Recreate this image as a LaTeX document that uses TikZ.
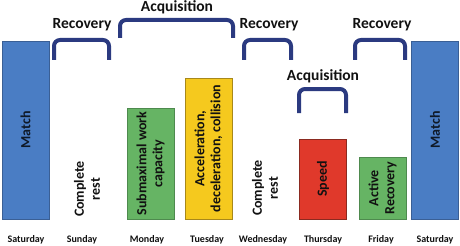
\documentclass[tikz,border=0pt]{standalone}
\usepackage{fontspec}
\setmainfont{Carlito}
\usepackage{tikz}
\usepackage{xcolor}
\usetikzlibrary{positioning}
\definecolor{Navy}{HTML}{2B3A80}
\definecolor{MatchBlue}{HTML}{4A7DC4}
\definecolor{MatchEdge}{HTML}{3A5F95}
\definecolor{WorkGreen}{HTML}{66B464}
\definecolor{WorkEdge}{HTML}{4E8A4E}
\definecolor{LoadYellow}{HTML}{F5C91E}
\definecolor{LoadEdge}{HTML}{A8881A}
\definecolor{SpeedRed}{HTML}{E0392B}
\definecolor{SpeedEdge}{HTML}{8B2A20}
\definecolor{Ink}{HTML}{111111}
\begin{document}
\begin{tikzpicture}[x=1pt,y=-1pt,
  bar/.style={draw,line width=0.7pt,rotate=90,minimum height=47pt,inner sep=0pt,align=center,text=Ink,font=\bfseries\fontsize{14}{16}\selectfont},
  resttext/.style={rotate=90,align=center,text=Ink,font=\bfseries\fontsize{14}{16}\selectfont},
  day/.style={text=Ink,font=\bfseries\fontsize{10}{12}\selectfont},
  phase/.style={text=Ink,font=\bfseries\fontsize{15.5}{17}\selectfont},
  brace/.style={draw=Navy,line width=4pt,rounded corners=6pt}
]
\useasboundingbox (0,0) rectangle (460,246);
% training bars
\node[bar,fill=MatchBlue,draw=MatchEdge,minimum width=178pt,text=black!80!MatchBlue] (sat1) at (25.5,130) {Match};
\node[bar,fill=WorkGreen,draw=WorkEdge,minimum width=111pt] (mon) at (150.5,163.5) {Submaximal work\\capacity};
\node[bar,fill=LoadYellow,draw=LoadEdge,minimum width=141pt] (tue) at (208.5,148.5) {Acceleration,\\deceleration, collision};
\node[bar,fill=SpeedRed,draw=SpeedEdge,minimum width=80pt] (thu) at (323,179) {Speed};
\node[bar,fill=WorkGreen,draw=WorkEdge,minimum width=62pt] (fri) at (382.5,188) {Active\\Recovery};
\node[bar,fill=MatchBlue,draw=MatchEdge,minimum width=178pt,text=black!80!MatchBlue] (sat2) at (435,130) {Match};
% rest days
\node[resttext] (sunrest) at (87,189) {Complete\\rest};
\node[resttext] (wedrest) at (265,188) {Complete\\rest};
% days of the week
\node[day] (dsat1) at (26,240) {Saturday};
\node[day] (dsun) at (82,240) {Sunday};
\node[day] (dmon) at (147,240) {Monday};
\node[day] (dtue) at (207,240) {Tuesday};
\node[day] (dwed) at (263,240) {Wednesday};
\node[day] (dthu) at (323,240) {Thursday};
\node[day] (dfri) at (381,240) {Friday};
\node[day] (dsat2) at (435,240) {Saturday};
% phases
\node[phase] (rec1) at (82,25) {Recovery};
\node[phase] (acq1) at (177,7) {Acquisition};
\node[phase] (rec2) at (269,25) {Recovery};
\node[phase] (acq2) at (323,76) {Acquisition};
\node[phase] (rec3) at (382,25) {Recovery};
\draw[brace] (54,60) |- (109,40) -- (109,60);
\draw[brace] (120,38) |- (233,20) -- (233,38);
\draw[brace] (244,60) |- (291,40) -- (291,60);
\draw[brace] (299,113) |- (346,89) -- (346,113);
\draw[brace] (355,60) |- (405,40) -- (405,60);
\end{tikzpicture}
\end{document}
